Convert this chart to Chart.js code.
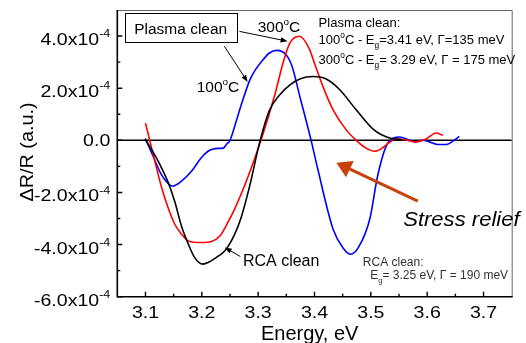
<!DOCTYPE html>
<html>
<head>
<meta charset="utf-8">
<script src="https://cdn.jsdelivr.net/npm/chart.js@4"></script>
<style>
  html, body { margin: 0; padding: 0; background: #fff; }
  #wrap { width: 526px; height: 343px; }
</style>
</head>
<body>
<div id="wrap"><canvas id="c" width="526" height="343"></canvas></div>
<script>
// Photoreflectance spectra: photon energy (eV) and ΔR/R in units of 1e-4
const plasma100E = [3.100, 3.111, 3.128, 3.140, 3.148, 3.164, 3.182, 3.199, 3.211, 3.220, 3.229, 3.238, 3.244, 3.250,
                    3.261, 3.270, 3.285, 3.295, 3.309, 3.320, 3.333, 3.350, 3.360, 3.374, 3.394, 3.406, 3.433, 3.450,
                    3.464, 3.478, 3.498, 3.512, 3.527, 3.540, 3.551, 3.569, 3.580, 3.592, 3.604, 3.619, 3.634, 3.645, 3.657];
const plasma100V = [0.06, -0.48, -1.31, -1.65, -1.76, -1.57, -1.18, -0.67, -0.42, -0.33, -0.31, -0.30, -0.15, 0.00,
                    0.73, 1.36, 2.30, 2.70, 3.10, 3.35, 3.45, 3.27, 2.85, 1.68, 0.00, -1.12, -3.41, -4.11,
                    -4.37, -4.11, -3.03, -1.37, -0.23, 0.09, 0.13, 0.00, -0.06, 0.00, -0.06, -0.16, -0.16, -0.04, 0.15];

const plasma300E = [3.100, 3.113, 3.128, 3.140, 3.152, 3.164, 3.176, 3.199, 3.217, 3.232, 3.246, 3.258, 3.282, 3.305,
                    3.329, 3.345, 3.356, 3.373, 3.390, 3.400, 3.415, 3.433, 3.456, 3.474, 3.490, 3.507, 3.520, 3.533,
                    3.545, 3.560, 3.580, 3.598, 3.616, 3.628];
const plasma300V = [0.66, -0.48, -1.76, -2.58, -3.22, -3.60, -3.86, -3.92, -3.88, -3.67, -3.16, -2.65, -1.40, 0.00,
                    1.70, 3.03, 3.72, 3.99, 3.55, 2.96, 2.06, 1.17, 0.41, 0.00, -0.28, -0.42, -0.30, -0.08,
                    0.06, 0.02, -0.06, 0.05, 0.28, 0.19];

const rcaE = [3.099, 3.111, 3.125, 3.140, 3.152, 3.164, 3.176, 3.187, 3.202, 3.211, 3.226, 3.241, 3.258, 3.270,
              3.285, 3.303, 3.320, 3.338, 3.356, 3.375, 3.397, 3.420, 3.444, 3.474, 3.505, 3.533, 3.555];
const rcaV = [0.06, -0.36, -0.90, -1.60, -2.35, -3.30, -3.98, -4.49, -4.75, -4.69, -4.49, -4.24, -3.62, -2.95,
              -1.75, -0.05, 1.15, 1.74, 2.12, 2.36, 2.45, 2.36, 1.96, 1.17, 0.41, 0.09, 0.03];

// Axis ticks (energy in eV, ΔR/R in units of 1e-4)
const xMajorTicks = [3.1, 3.2, 3.3, 3.4, 3.5, 3.6, 3.7];
const xMinorTicks = [3.15, 3.25, 3.35, 3.45, 3.55, 3.65];
const yMajorTicks = [-6, -4, -2, 0, 2, 4];
const yMinorTicks = [-5, -3, -1, 1, 3];

const UNIT = 1e-4;
const FONT = '"Liberation Sans", Arial, Helvetica, sans-serif';

function toPoints(E, V) {
  return E.map((e, i) => ({ x: e, y: V[i] * UNIT }));
}

// Draw a run of text pieces, each plain, superscript or subscript
function drawRich(ctx, parts, x, y, size, opt = {}) {
  const sx = opt.sx || 1;
  const style = opt.italic ? 'italic ' : '';
  const small = size * 0.64;
  let w = 0;
  for (const [t, m] of parts) {
    ctx.font = style + (m ? small : size) + 'px ' + FONT;
    w += ctx.measureText(t).width;
  }
  ctx.save();
  ctx.translate(x, y);
  if (opt.rot) ctx.rotate(opt.rot);
  ctx.scale(sx, 1);
  let cx = opt.align === 'right' ? -w : opt.align === 'center' ? -w / 2 : 0;
  ctx.fillStyle = opt.color || '#000';
  ctx.textAlign = 'left';
  ctx.textBaseline = 'alphabetic';
  for (const [t, m] of parts) {
    ctx.font = style + (m ? small : size) + 'px ' + FONT;
    const dy = m === 'sup' ? -size * 0.46 : m === 'sub' ? size * 0.3 : 0;
    ctx.fillText(t, cx, dy);
    cx += ctx.measureText(t).width;
  }
  ctx.restore();
}

function drawArrow(ctx, x1, y1, x2, y2, o = {}) {
  const color = o.color || '#000';
  const hl = o.headLen || 7, hw = o.headW || 2.6;
  const ang = Math.atan2(y2 - y1, x2 - x1);
  const bx = x2 - hl * Math.cos(ang), by = y2 - hl * Math.sin(ang);
  ctx.save();
  ctx.strokeStyle = color;
  ctx.fillStyle = color;
  ctx.lineWidth = o.width || 1;
  ctx.beginPath();
  ctx.moveTo(x1, y1);
  ctx.lineTo(bx + Math.cos(ang) * 1, by + Math.sin(ang) * 1);
  ctx.stroke();
  ctx.beginPath();
  ctx.moveTo(x2, y2);
  ctx.lineTo(bx + hw * Math.sin(ang), by - hw * Math.cos(ang));
  ctx.lineTo(bx - hw * Math.sin(ang), by + hw * Math.cos(ang));
  ctx.closePath();
  ctx.fill();
  ctx.restore();
}

function expLabel(v) {
  if (v === 0) return [['0.0', '']];
  return [[v.toFixed(1) + 'x10', ''], ['-4', 'sup']];
}

const decor = {
  id: 'decor',
  beforeDatasetsDraw(chart) {
    const { ctx, chartArea: a, scales: { y } } = chart;
    const y0 = y.getPixelForValue(0);
    ctx.save();
    ctx.strokeStyle = '#000';
    ctx.lineWidth = 1.6;
    ctx.beginPath();
    ctx.moveTo(a.left, y0);
    ctx.lineTo(a.right, y0);
    ctx.stroke();
    ctx.restore();
  },
  afterDraw(chart) {
    const { ctx, chartArea: a, scales: { x, y } } = chart;
    const X = e => x.getPixelForValue(e);
    const Y = v => y.getPixelForValue(v * UNIT);

    // frame: top and right in grey, axes in black
    ctx.save();
    ctx.strokeStyle = '#666';
    ctx.lineWidth = 1;
    ctx.beginPath();
    ctx.moveTo(a.left, a.top + 0.5);
    ctx.lineTo(a.right + 0.5, a.top + 0.5);
    ctx.lineTo(a.right + 0.5, a.bottom);
    ctx.stroke();
    ctx.strokeStyle = '#000';
    ctx.lineWidth = 1.6;
    ctx.beginPath();
    ctx.moveTo(a.left, a.top);
    ctx.lineTo(a.left, a.bottom);
    ctx.lineTo(a.right + 1, a.bottom);
    ctx.stroke();

    // inward tick marks
    ctx.lineWidth = 1.4;
    ctx.beginPath();
    for (const t of xMajorTicks) { const p = X(t); ctx.moveTo(p, a.bottom); ctx.lineTo(p, a.bottom - 5); }
    for (const t of xMinorTicks) { const p = X(t); ctx.moveTo(p, a.bottom); ctx.lineTo(p, a.bottom - 3); }
    for (const t of yMajorTicks) { const p = Y(t); ctx.moveTo(a.left, p); ctx.lineTo(a.left + 5, p); }
    for (const t of yMinorTicks) { const p = Y(t); ctx.moveTo(a.left, p); ctx.lineTo(a.left + 3, p); }
    ctx.stroke();
    ctx.restore();

    // tick labels
    for (const t of xMajorTicks) {
      drawRich(ctx, [[t.toFixed(1), '']], X(t), a.bottom + 21.5, 17, { align: 'center', sx: 1.15 });
    }
    for (const t of yMajorTicks) {
      const off = t === 0 ? 5.5 : 9;
      drawRich(ctx, expLabel(t), a.left - 7, Y(t) + off, 17, { align: 'right', sx: 1.15 });
    }

    // axis titles
    drawRich(ctx, [['Energy, eV', '']], 309.7, 340, 20, { align: 'center' });
    drawRich(ctx, [['ΔR/R (a.u.)', '']], 33, 152, 18, { align: 'center', rot: -Math.PI / 2, sx: 1.1 });

    // "Plasma clean" callout box with arrows to the two anneal curves
    const bx1 = X(3.063), bx2 = X(3.262), by1 = Y(4.88), by2 = Y(3.76);
    ctx.save();
    ctx.fillStyle = '#fff';
    ctx.fillRect(bx1, by1, bx2 - bx1, by2 - by1);
    ctx.strokeStyle = '#000';
    ctx.lineWidth = 1;
    ctx.strokeRect(Math.round(bx1) + 0.5, Math.round(by1) + 0.5, Math.round(bx2 - bx1), Math.round(by2 - by1));
    ctx.restore();
    drawRich(ctx, [['Plasma clean', '']], (bx1 + bx2) / 2, Y(4.08), 15.5, { align: 'center' });
    drawArrow(ctx, X(3.2667), Y(4.18), X(3.3523), Y(3.80));
    drawArrow(ctx, X(3.240), Y(3.61), X(3.2814), Y(2.24));
    drawRich(ctx, [['300', ''], ['o', 'sup'], ['C', '']], X(3.2991), Y(4.15), 15.5);
    drawRich(ctx, [['100', ''], ['o', 'sup'], ['C', '']], X(3.191), Y(1.86), 15.5);

    // RCA label
    drawRich(ctx, [['RCA clean', '']], X(3.273), Y(-4.81), 16);
    drawArrow(ctx, X(3.2684), Y(-4.46), X(3.2406), Y(-4.11));

    // fit parameters
    const fs = 13;
    drawRich(ctx, [['Plasma clean:', '']], X(3.4073), Y(4.36), fs);
    drawRich(ctx, [['100', ''], ['o', 'sup'], ['C - E', ''], ['g', 'sub'], ['=3.41 eV, Γ=135 meV', '']], X(3.4073), Y(3.68), fs);
    drawRich(ctx, [['300', ''], ['o', 'sup'], ['C - E', ''], ['g', 'sub'], ['= 3.29 eV, Γ = 175 meV', '']], X(3.4073), Y(2.93), fs);
    drawRich(ctx, [['RCA clean:', '']], X(3.4858), Y(-4.81), 12, { color: '#333' });
    drawRich(ctx, [['E', ''], ['g', 'sub'], ['= 3.25 eV, Γ = 190 meV', '']], X(3.4989), Y(-5.32), 12, { color: '#333' });

    // stress relief arrow
    drawArrow(ctx, X(3.5833), Y(-2.33), X(3.4387), Y(-0.86), { color: '#c8410a', width: 3, headLen: 15, headW: 9 });
    drawRich(ctx, [['Stress relief', '']], X(3.5574), Y(-3.29), 21, { italic: true, sx: 1.05 });
  }
};

const lineStyle = { borderWidth: 1.6, pointRadius: 0, fill: false, cubicInterpolationMode: 'monotone' };

new Chart(document.getElementById('c'), {
  type: 'line',
  data: {
    datasets: [
      { label: 'RCA clean', data: toPoints(rcaE, rcaV), borderColor: '#000000', ...lineStyle },
      { label: 'Plasma clean 300°C', data: toPoints(plasma300E, plasma300V), borderColor: '#ff0000', ...lineStyle },
      { label: 'Plasma clean 100°C', data: toPoints(plasma100E, plasma100V), borderColor: '#0000ff', ...lineStyle }
    ]
  },
  options: {
    responsive: false,
    devicePixelRatio: 1,
    animation: false,
    layout: { padding: { top: 10, right: 14.3, left: 0, bottom: 0 } },
    plugins: { legend: { display: false }, tooltip: { enabled: false } },
    scales: {
      x: {
        type: 'linear', min: 3.05, max: 3.75,
        ticks: { display: false }, grid: { display: false }, border: { display: false },
        afterFit: s => { s.height = 46.3; }
      },
      y: {
        type: 'linear', min: -6 * UNIT, max: 5 * UNIT,
        ticks: { display: false }, grid: { display: false }, border: { display: false },
        afterFit: s => { s.width = 117.3; }
      }
    }
  },
  plugins: [decor]
});
</script>
</body>
</html>
